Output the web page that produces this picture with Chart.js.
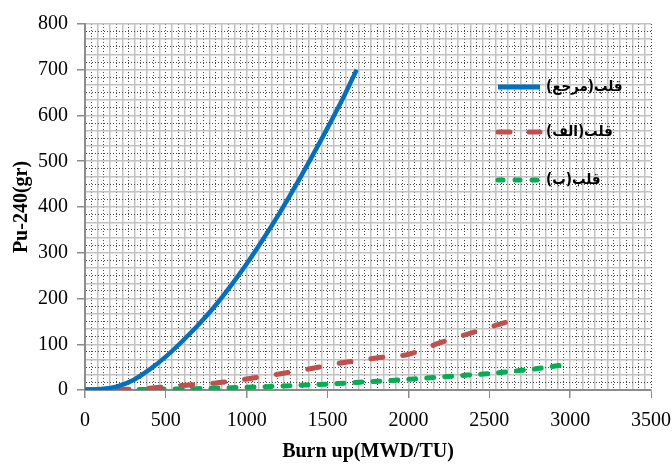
<!DOCTYPE html>
<html>
<head>
<meta charset="utf-8">
<script src="https://cdn.jsdelivr.net/npm/chart.js@4"></script>
<style>
  html, body { margin: 0; padding: 0; background: #fff; }
  #wrap { width: 672px; height: 467px; }
</style>
</head>
<body>
<div id="wrap"><canvas id="myChart" width="672" height="467"></canvas></div>
<script>
// series labels (legend)
let seriesNames = ["قلب(مرجع)", "قلب(الف)", "قلب(ب)"];

// burn up (x) and Pu-240 (y)
let burnRef = [0, 100, 200, 300, 400, 500, 600, 700, 800, 900, 1000, 1100, 1200, 1300, 1400, 1500, 1600, 1680];
let puRef = [0, 2, 8, 22, 45, 73, 106, 142, 182, 227, 276, 329, 385, 445, 508, 573, 641, 700];

let burnAlef = [0, 200, 400, 500, 600, 800, 1000, 1200, 1400, 1600, 1800, 2000, 2200, 2400, 2640];
let puAlef = [0, 1, 4, 7, 10, 15, 24, 35, 47, 60, 70, 78, 104, 126, 152];

let burnBe = [0, 300, 500, 700, 900, 1100, 1300, 1500, 1700, 1900, 2100, 2300, 2500, 2700, 2800, 2960];
let puBe = [1, 1, 2, 3, 5, 7, 10, 13, 17, 21, 26, 31, 36, 43, 47, 55];

let xTicks = [0, 500, 1000, 1500, 2000, 2500, 3000, 3500];
let yTicks = [0, 100, 200, 300, 400, 500, 600, 700, 800];

function toPoints(xs, ys) {
	return xs.map((x, i) => ({ x: x, y: ys[i] }));
}

function isMajor(v, list) {
	return list.some((t) => Math.abs(v - t) < 1e-6);
}

// legend drawn inside the plot area, like the original
const insideLegend = {
	id: "insideLegend",
	afterDatasetsDraw(chart) {
		const c = chart.ctx;
		const rows = [87, 132, 180];
		chart.data.datasets.forEach((ds, i) => {
			c.save();
			c.strokeStyle = ds.borderColor;
			c.lineWidth = 5;
			c.lineCap = ds.borderCapStyle || "butt";
			c.setLineDash(ds.legendDash || []);
			c.beginPath();
			c.moveTo(498, rows[i]);
			c.lineTo(540, rows[i]);
			c.stroke();
			c.setLineDash([]);
			c.fillStyle = "#000";
			c.font = "bold 15px 'DejaVu Sans Condensed', 'DejaVu Sans'";
			c.direction = "rtl";
			c.textAlign = "left";
			c.textBaseline = "middle";
			c.fillText(ds.label, 546, rows[i]);
			c.restore();
		});
	},
};

const ctx = document.getElementById("myChart");

new Chart(ctx, {
	type: "line",
	data: {
		datasets: [
			{
				label: seriesNames[0],
				data: toPoints(burnRef, puRef),
				borderColor: "#0070C0",
				borderWidth: 4.5,
				pointRadius: 0,
				cubicInterpolationMode: "monotone",
				fill: false,
			},
			{
				label: seriesNames[1],
				data: toPoints(burnAlef, puAlef),
				borderColor: "#C0504D",
				borderWidth: 5,
				borderDash: [12, 20],
				borderCapStyle: "round",
				legendDash: [12, 19],
				pointRadius: 0,
				cubicInterpolationMode: "monotone",
				fill: false,
			},
			{
				label: seriesNames[2],
				data: toPoints(burnBe, puBe),
				borderColor: "#00B050",
				borderWidth: 5,
				borderDash: [7, 11],
				borderCapStyle: "round",
				legendDash: [5, 12],
				pointRadius: 0,
				cubicInterpolationMode: "monotone",
				fill: false,
			},
		],
	},
	options: {
		responsive: false,
		animation: false,
		layout: { padding: { top: 24, right: 0, bottom: 0, left: 0 } },
		plugins: {
			legend: { display: false },
			tooltip: { enabled: false },
		},
		scales: {
			x: {
				type: "linear",
				min: 0,
				max: 3500,
				afterFit: (s) => {
					s.height = 77;
					s.paddingRight = 21;
					s.paddingLeft = 0;
				},
				ticks: {
					stepSize: 500 / 13,
					autoSkip: false,
					maxRotation: 0,
					padding: 11,
					color: "#000",
					font: { family: "'Liberation Serif'", size: 20 },
					callback: (v) => (isMajor(v, xTicks) ? String(Math.round(v)) : ""),
				},
				grid: {
					color: (c) => (c.index % 2 ? "#444" : "#c2c2c2"),
					lineWidth: (c) => (c.index % 2 ? 1 : 1.5),
					tickLength: 8,
					tickColor: (c) => (c.tick && isMajor(c.tick.value, xTicks) ? "#8c8c8c" : "rgba(0,0,0,0)"),
				},
				border: {
					color: "#8c8c8c",
					width: 2,
					dash: (c) => (c.index % 2 ? [1, 2] : []),
				},
				title: {
					display: true,
					text: "Burn up(MWD/TU)",
					color: "#000",
					font: { family: "'Liberation Serif'", size: 20, weight: "bold" },
					padding: { top: 0, bottom: 3 },
				},
			},
			y: {
				min: 0,
				max: 800,
				afterFit: (s) => { s.width = 85; },
				ticks: {
					stepSize: 100 / 6,
					autoSkip: false,
					padding: 9,
					color: "#000",
					font: { family: "'Liberation Serif'", size: 20 },
					callback: (v) => (isMajor(v, yTicks) ? String(Math.round(v)) : ""),
				},
				grid: {
					color: (c) => (c.index % 2 ? "#444" : "#c2c2c2"),
					lineWidth: (c) => (c.index % 2 ? 1 : 1.5),
					tickLength: 8,
					tickColor: (c) => (c.tick && isMajor(c.tick.value, yTicks) ? "#8c8c8c" : "rgba(0,0,0,0)"),
				},
				border: {
					color: "#8c8c8c",
					width: 2,
					dash: (c) => (c.index % 2 ? [1, 2] : []),
				},
				title: {
					display: true,
					text: "Pu-240(gr)",
					color: "#000",
					font: { family: "'Liberation Serif'", size: 20, weight: "bold" },
					padding: { top: 10, bottom: 0 },
				},
			},
		},
	},
	plugins: [insideLegend],
});
</script>
</body>
</html>
